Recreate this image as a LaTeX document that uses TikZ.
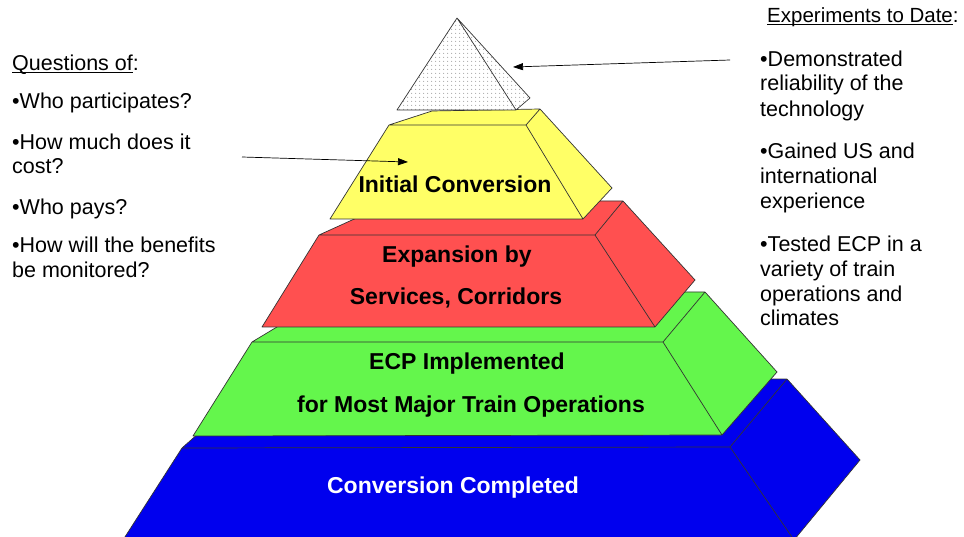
\documentclass[tikz,border=0pt]{standalone}
\usepackage{fontspec}
\setmainfont{Liberation Sans}
\usetikzlibrary{arrows.meta,patterns.meta}
\definecolor{layerblue}{RGB}{0,0,238}
\definecolor{layergreen}{RGB}{100,246,76}
\definecolor{layerred}{RGB}{255,80,80}
\definecolor{layeryellow}{RGB}{255,255,102}
\newcommand\sidefont{\fontsize{21.5}{25}\selectfont}
\newcommand\titlefont{\fontsize{20.5}{24}\selectfont}
\newcommand\layerfont{\fontsize{23}{27}\selectfont\bfseries}
\newcommand\undr[1]{\setbox0\hbox{#1}\rlap{\rule[-2.6pt]{\wd0}{1.1pt}}#1}
\tikzset{
  face/.style={draw=black!80, line width=.7pt, line join=round},
  sidetext/.style={anchor=base west, inner sep=0pt, font=\sidefont},
  layertext/.style={anchor=base, inner sep=0pt, font=\layerfont},
}
\begin{document}
\begin{tikzpicture}[x=1pt, y=-1pt, >={Stealth[length=10pt, width=7pt, inset=0pt]}]
\useasboundingbox (0,0) rectangle (964,537);
\begin{scope}
  \clip (0,0) rectangle (964,537);
  % layers, bottom first: front, top, side
  \draw[face, fill=layerblue] (123,540) -- (182,448) -- (730,447) -- (794,540) -- cycle
    (182,448) -- (260,379) -- (787,379) -- (730,447) -- cycle
    (730,447) -- (787,379) -- (860,460) -- (794,540) -- cycle;
  \draw[face, fill=layergreen] (193,436) -- (252,342) -- (663,342) -- (722,435) -- cycle
    (252,342) -- (335,292) -- (705,292) -- (663,342) -- cycle
    (663,342) -- (705,292) -- (777,372) -- (722,435) -- cycle;
  \draw[face, fill=layerred] (262,327) -- (319,235) -- (595,235) -- (655,327) -- cycle
    (319,235) -- (394,201) -- (623,201) -- (595,235) -- cycle
    (595,235) -- (623,201) -- (695,280) -- (655,327) -- cycle;
  \draw[face, fill=layeryellow] (330,219) -- (389,125) -- (526,125) -- (583,219) -- cycle
    (389,125) -- (432,111) -- (540,109) -- (526,125) -- cycle
    (526,125) -- (540,109) -- (612,188) -- (583,219) -- cycle;
  % top
  \draw[face, preaction={fill=white}, pattern={Dots[distance=4pt, radius=.65pt]}, pattern color=gray!65]
    (457,18) -- (397,110) -- (516,110) -- cycle
    (457,18) -- (516,110) -- (530,98) -- cycle;
\end{scope}

\node[layertext, white] (completed) at (453,493) {Conversion Completed};
\node[layertext] (ecpa) at (467,370) {ECP Implemented};
\node[layertext] (ecpb) at (471,412) {for Most Major Train Operations};
\node[layertext] (expa) at (457,263) {Expansion by};
\node[layertext] (expb) at (456,305) {Services, Corridors};
\node[layertext] (initial) at (455,193) {Initial Conversion};

% questions
\node[sidetext] (qhead) at (12,70.7) {\undr{Questions of}:};
\foreach \y/\t [count=\i] in {109/•Who participates?, 150/•How much does it, 174/cost?,
  215/•Who pays?, 253/•How will the benefits, 278/be monitored?}
  \node[sidetext] (q\i) at (12,\y) {\t};

% experiments
\node[sidetext, font=\titlefont] (ehead) at (767,22.7) {\undr{Experiments to Date}:};
\foreach \y/\t [count=\i] in {66.7/•Demonstrated, 90.7/reliability of the, 116.7/technology,
  159/•Gained US and, 184/international, 209/experience, 251.7/•Tested ECP in a,
  276.7/variety of train, 301.7/operations and, 326/climates}
  \node[sidetext] (e\i) at (760,\y) {\t};

\coordinate (qtail) at (242,157);
\coordinate (qtip) at (408,162);
\coordinate (etail) at (730,60);
\coordinate (etip) at (513,67);
\draw[->, line width=.7pt] (qtail) -- (qtip);
\draw[->, line width=.7pt] (etail) -- (etip);
\end{tikzpicture}
\end{document}
